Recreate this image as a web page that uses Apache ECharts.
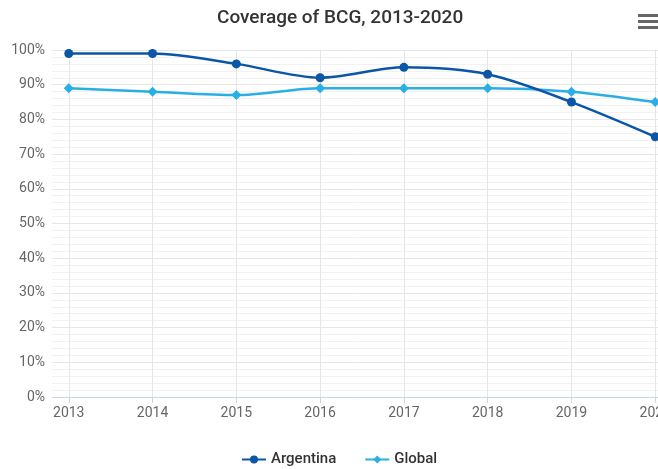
<!DOCTYPE html>
<html>
<head>
<meta charset="utf-8">
<script src="https://cdn.jsdelivr.net/npm/echarts@6/dist/echarts.min.js"></script>
<style>
  html, body { margin: 0; padding: 0; background: #ffffff; }
  #chart { width: 658px; height: 469px; }
</style>
</head>
<body>
<div id="chart"></div>
<script>
// data
const years = [2013, 2014, 2015, 2016, 2017, 2018, 2019, 2020];
const argentina = [99, 99, 96, 92, 95, 93, 85, 75];
const globalCov = [89, 88, 87, 89, 89, 89, 88, 85];

const chart = echarts.init(document.getElementById('chart'));

const option = {
  backgroundColor: '#ffffff',
  textStyle: { fontFamily: 'Roboto, sans-serif' },
  title: {
    text: 'Coverage of BCG, 2013-2020',
    left: 212,
    top: 4,
    textStyle: { fontSize: 19, fontWeight: 500, color: '#333333' }
  },
  legend: {
    left: 236,
    top: 447,
    itemWidth: 24,
    itemHeight: 10,
    itemGap: 28,
    textStyle: { fontSize: 15, fontWeight: 500, color: '#333333' },
    data: ['Argentina', 'Global']
  },
  // plot runs past the right edge, as in the source screenshot
  grid: { left: 52, width: 620, top: 50, bottom: 72, outerBoundsMode: 'none', containLabel: false },
  xAxis: {
    type: 'value',
    min: 2012.8,
    max: 2020.2,
    axisLine: { show: true, lineStyle: { color: '#ccd6eb' } },
    axisTick: { show: true, customValues: years, length: 6, lineStyle: { color: '#ccd6eb' } },
    axisLabel: { customValues: years, color: '#666666', fontSize: 14, margin: 9, formatter: v => String(Math.round(v)) },
    splitLine: { show: true, lineStyle: { color: '#e6e6e6' } }
  },
  yAxis: {
    type: 'value',
    min: 0,
    max: 100,
    interval: 10,
    axisLine: { show: false },
    axisTick: { show: false },
    axisLabel: { color: '#666666', fontSize: 14, margin: 7, formatter: '{value}%' },
    splitLine: { lineStyle: { color: '#e6e6e6' } },
    minorTick: { show: false, splitNumber: 5 },
    minorSplitLine: { show: true, lineStyle: { color: '#f2f2f2' } }
  },
  series: [
    {
      name: 'Argentina',
      type: 'line',
      smooth: 0.3,
      symbol: 'circle',
      symbolSize: 9,
      color: '#0b56a6',
      lineStyle: { width: 2.5 },
      data: years.map((y, i) => [y, argentina[i]]),
      z: 3
    },
    {
      name: 'Global',
      type: 'line',
      smooth: 0.3,
      symbol: 'diamond',
      symbolSize: 10,
      color: '#2aaee6',
      lineStyle: { width: 2.5 },
      data: years.map((y, i) => [y, globalCov[i]]),
      z: 2
    }
  ],
  graphic: [
    { type: 'rect', left: 638, top: 14, shape: { width: 20, height: 3 }, style: { fill: '#666666' } },
    { type: 'rect', left: 638, top: 20, shape: { width: 20, height: 3 }, style: { fill: '#666666' } },
    { type: 'rect', left: 638, top: 26, shape: { width: 20, height: 3 }, style: { fill: '#666666' } }
  ]
};

chart.setOption(option);
</script>
</body>
</html>
